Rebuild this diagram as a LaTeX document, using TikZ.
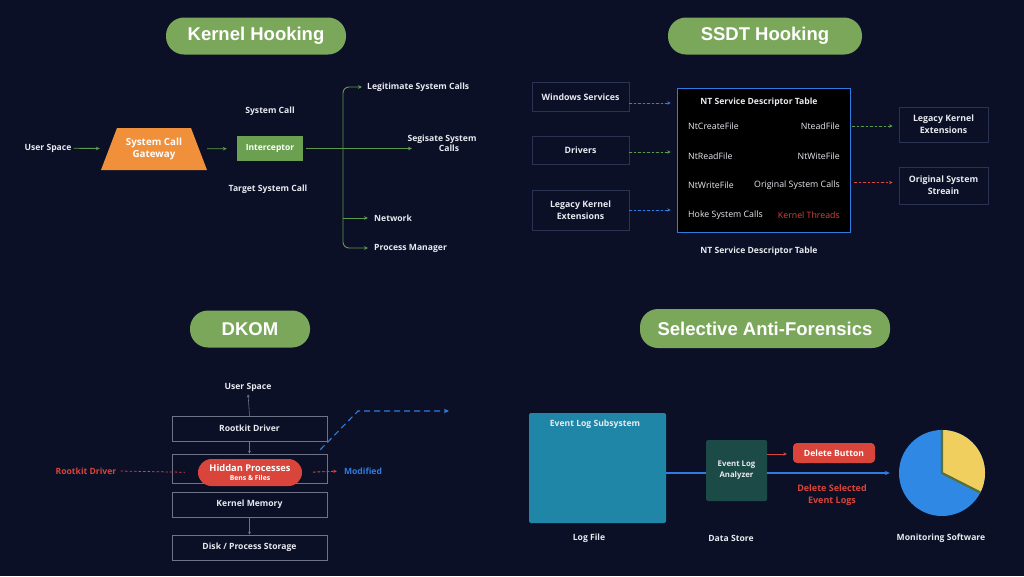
\documentclass[tikz,border=0pt]{standalone}
\usepackage{fontspec}
\setmainfont{Open Sans}
\newfontfamily\titlefont{Liberation Sans}
\usetikzlibrary{arrows.meta,calc}
\definecolor{bg}{HTML}{0B1026}
\definecolor{pill}{HTML}{7BA75A}
\definecolor{igreen}{HTML}{6AA050}
\definecolor{lgreen}{HTML}{5E9A4C}
\definecolor{orng}{HTML}{F0903A}
\definecolor{bblue}{HTML}{2F7BE0}
\definecolor{rred}{HTML}{D9443B}
\definecolor{sborder}{HTML}{2A3352}
\definecolor{dborder}{HTML}{6E7486}
\definecolor{teal}{HTML}{1F86A8}
\definecolor{dteal}{HTML}{1C4A46}
\definecolor{pieblue}{HTML}{2F88E4}
\definecolor{pieyel}{HTML}{F1CF5E}
\definecolor{olive}{HTML}{55703C}
\definecolor{txt}{HTML}{E8EAF0}
\begin{document}
\begin{tikzpicture}[x=1pt,y=-1pt,
  title/.style={fill=pill,rounded corners=18pt,minimum height=37pt,text=white,font=\titlefont\bfseries\fontsize{18.5}{20}\selectfont,inner sep=0pt},
  lbl/.style={text=txt,font=\bfseries\fontsize{8.6}{10}\selectfont,inner sep=2pt,align=center},
  ent/.style={text=txt,font=\fontsize{8.8}{9}\selectfont,inner sep=0pt},
  garr/.style={draw=lgreen,line width=0.9pt,-{Stealth[length=4pt,width=3.6pt]}},
  gline/.style={draw=lgreen,line width=0.9pt},
  sbox/.style={draw=sborder,line width=0.8pt,fill=bg,minimum width=97pt,inner sep=0pt,text=txt,font=\bfseries\fontsize{8.8}{12}\selectfont,align=center},
  dbox/.style={draw=dborder,line width=0.7pt,minimum width=155pt,text=txt,font=\bfseries\fontsize{8.6}{9}\selectfont},
  dsh/.style={dashed,dash pattern=on 2.5pt off 2pt,line width=0.9pt,-{Stealth[length=3.5pt,width=3.4pt]}},
  garrow/.style={draw=dborder,line width=0.6pt,-{Stealth[length=3pt,width=3pt]}}
]
\useasboundingbox (0,0) rectangle (1024,576);
\fill[bg] (0,0) rectangle (1024,576);

% ---------- Kernel Hooking ----------
\node[title,minimum width=180pt] (t1) at (256,36) {Kernel Hooking};
\node[lbl] (us1) at (48,148) {User Space};
\coordinate (gwc) at (154,149);
\fill[orng] ($(gwc)+(-37,-21)$) -- ++(74,0) -- ++(16,42) -- ++(-106,0) -- cycle;
\node[text=white,font=\bfseries\fontsize{9.8}{12.5}\selectfont,align=center,minimum width=100pt,minimum height=42pt,inner sep=0pt] (gw) at (gwc) {System Call\\Gateway};
\node[fill=igreen,minimum width=66pt,minimum height=25pt,inner sep=0pt,text=white,font=\bfseries\fontsize{8.5}{9}\selectfont] (ic) at (270,148.5) {Interceptor};
\node[lbl] (sc) at (270,111) {System Call};
\node[lbl] (tsc) at (268,189) {Target System Call};
\draw[garr,shorten <=0pt,shorten >=4pt] (us1) -- (gw);
\draw[garr,shorten <=3pt,shorten >=10pt] (gw) -- (ic);
\coordinate (hub) at (343,148.5);
\coordinate (netb) at (343,218);
\coordinate (segend) at (412,148.5);
\node[lbl,anchor=west] (leg) at (365,87) {Legitimate System Calls};
\node[lbl] (seg) at (442,143.5) {Segisate System\\\hspace*{14pt}Calls};
\node[lbl,anchor=west] (net) at (372,218) {Network};
\node[lbl,anchor=west] (pm) at (372,248) {Process Manager};
\draw[gline,shorten <=3pt] (ic.east) -- (hub);
\draw[garr] (hub) -- (segend);
\draw[garr,rounded corners=6pt,shorten >=3pt] (hub) |- (leg.west);
\draw[garr,rounded corners=6pt,shorten >=4pt] (hub) |- (pm.west);
\draw[garr,shorten >=4pt] (netb) -- (net.west);

% ---------- SSDT Hooking ----------
\node[title,minimum width=194pt] (t2) at (765,36) {SSDT Hooking};
\node[sbox,minimum height=29pt] (ws) at (580.5,97) {Windows Services};
\node[sbox,minimum height=28pt] (dr) at (580.5,150) {Drivers};
\node[sbox,minimum height=40pt] (lke) at (580.5,210) {Legacy Kernel\\Extensions};
\node[draw=bblue,line width=1.6pt,fill=black,minimum width=173pt,minimum height=144pt] (nt) at (764,160.5) {};
\node[lbl] (ntt) at (759,102) {NT Service Descriptor Table};
\node[ent,anchor=west] (e1) at (688,126) {NtCreateFile};
\node[ent,anchor=west] (e2) at (688,156) {NtReadFile};
\node[ent,anchor=west] (e3) at (688,185) {NtWriteFile};
\node[ent,anchor=west] (e4) at (688,215) {Hoke System Calls};
\node[ent,anchor=east] (f1) at (840,126) {NteadFile};
\node[ent,anchor=east] (f2) at (840,156) {NtWiteFile};
\node[ent,anchor=east] (f3) at (840,185) {Original System Calls};
\node[ent,anchor=east,text=rred] (f4) at (840,215) {Kernel Threads};
\node[lbl] (ntb) at (759,251) {NT Service Descriptor Table};
\node[sbox,minimum width=89pt,minimum height=35pt] (rlke) at (943.5,124.5) {Legacy Kernel\\Extensions};
\node[sbox,minimum width=89pt,minimum height=37pt] (oss) at (943.5,185.5) {Original System\\Streain};
\draw[dsh,draw=bblue,fill=bblue,shorten >=6pt] ([yshift=-6pt]ws.east) -- ([yshift=-6pt]ws.east -| nt.west);
\draw[dsh,draw=lgreen,fill=lgreen,shorten >=6pt] ([yshift=-2pt]dr.east) -- ([yshift=-2pt]dr.east -| nt.west);
\draw[dsh,draw=bblue,fill=bblue,shorten >=6pt] (lke.east) -- (lke.east -| nt.west);
\draw[dsh,draw=lgreen,fill=lgreen,shorten <=1pt,shorten >=6pt] (nt.east |- f1) -- (f1 -| rlke.west);
\draw[dsh,draw=rred,fill=rred,shorten <=3pt,shorten >=6pt] ([yshift=3pt]nt.east |- oss.west) -- ([yshift=3pt]oss.west);

% ---------- DKOM ----------
\node[title,minimum width=120pt] (t3) at (250,329) {DKOM};
\node[lbl] (dus) at (248,387) {User Space};
\node[dbox,minimum height=25pt] (rd) at (249.5,428.5) {Rootkit Driver};
\node[dbox,minimum height=29pt] (hb) at (249.5,468.5) {};
\node[dbox,minimum height=25pt] (km) at (249.5,504.5) {Kernel Memory};
\node[dbox,minimum height=25pt] (ds) at (249.5,547.5) {Disk / Process Storage};
\draw[garrow,shorten >=1pt] (rd.north) -- (dus.south);
\draw[garrow] (rd.south) -- (hb.north);
\draw[garrow] (km.south) -- (ds.north);
\node[fill=rred,rounded corners=13.5pt,minimum width=104pt,minimum height=27pt,inner sep=0pt,text=white,align=center,font=\bfseries\fontsize{9.3}{9.5}\selectfont] (hp) at (250,472.5) {Hiddan Processes\\[-1pt]{\fontsize{6.8}{7}\selectfont Bens \& Files}};
\node[lbl,text=rred] (rdl) at (86,471) {Rootkit Driver};
\node[lbl,text=bblue] (mod) at (363,471) {Modified};
\draw[rred,dashed,dash pattern=on 2.5pt off 2pt,line width=0.8pt,shorten <=2pt,shorten >=13pt] (rdl.east) -- (hp.west);
\draw[dsh,draw=rred,fill=rred,shorten <=11pt,shorten >=5pt] (hp.east) -- (mod.west);
\coordinate (bend) at (358,411);
\coordinate (bl1) at (449,411);
\draw[bblue,dashed,dash pattern=on 6pt off 4pt,line width=1.1pt,-{Stealth[length=5pt,width=4.5pt]}] ([xshift=-7pt,yshift=4pt]hb.north east) -- (bend) -- (bl1);

% ---------- Selective Anti-Forensics ----------
\node[title,minimum width=250pt,minimum height=39pt] (t4) at (765,328.5) {Selective Anti-Forensics};
\node[fill=teal,rounded corners=2pt,minimum width=137pt,minimum height=110pt] (els) at (597.5,468) {};
\node[lbl] (elst) at (595,424) {Event Log Subsystem};
\node[fill=dteal,rounded corners=1.5pt,minimum width=61pt,minimum height=61pt,inner sep=0pt,text=txt,align=center,font=\bfseries\fontsize{7.8}{11}\selectfont] (ela) at (736.5,470.5) {Event Log\\Analyzer};
\node[fill=rred,rounded corners=4pt,minimum width=82pt,minimum height=20pt,inner sep=0pt,text=white,font=\bfseries\fontsize{8.6}{9}\selectfont] (db) at (834,453) {Delete Button};
\node[circle,minimum size=86pt,inner sep=0pt] (pie) at (942,473) {};
\fill[pieblue] (pie.center) circle (43);
\fill[pieyel] (pie.center) -- ++(0,-43) arc[start angle=-90,end angle=27,radius=43] -- cycle;
\draw[olive,line width=2.2pt] (pie.north) -- (pie.center) -- ($(pie.center)+(27:43)$);
\draw[bblue,line width=1.1pt] ([yshift=-5pt]els.east) -- ([yshift=-5pt]els.east -| ela.west);
\draw[bblue,line width=1.1pt,-{Stealth[length=5pt,width=4.5pt]},shorten >=9pt] ([yshift=-2.5pt]ela.east) -- ([yshift=-2.5pt]ela.east -| pie.west);
\draw[rred,line width=0.9pt,-{Stealth[length=3.5pt,width=3.4pt]},shorten >=6pt] (ela.east |- 0,454) -- (db.west |- 0,454);
\node[lbl,text=rred,font=\bfseries\fontsize{9}{12}\selectfont] (dsel) at (832,495) {Delete Selected\\Event Logs};
\node[lbl] (lf) at (589,538) {Log File};
\node[lbl] (dst) at (731,538) {Data Store};
\node[lbl] (ms) at (941,538) {Monitoring Software};
\end{tikzpicture}
\end{document}
